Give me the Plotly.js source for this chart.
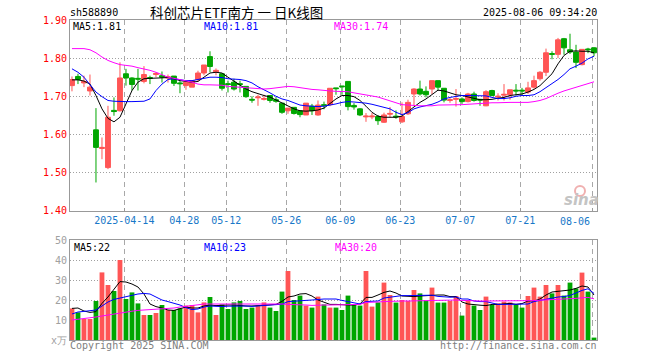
<!DOCTYPE html>
<html><head><meta charset="utf-8">
<script src="https://cdn.plot.ly/plotly-3.0.1.min.js"></script>
<style>html,body{margin:0;padding:0;background:#fff}#chart{width:660px;height:360px}</style>
</head><body><div id="chart"></div>
<script>
const dates = ['2025-03-31','2025-04-01','2025-04-02','2025-04-03','2025-04-07','2025-04-08','2025-04-09','2025-04-10','2025-04-11',
'2025-04-14','2025-04-15','2025-04-16','2025-04-17','2025-04-18','2025-04-21','2025-04-22','2025-04-23','2025-04-24','2025-04-25',
'2025-04-28','2025-04-29','2025-04-30','2025-05-06','2025-05-07','2025-05-08','2025-05-09',
'2025-05-12','2025-05-13','2025-05-14','2025-05-15','2025-05-16','2025-05-19','2025-05-20','2025-05-21','2025-05-22','2025-05-23',
'2025-05-26','2025-05-27','2025-05-28','2025-05-29','2025-05-30','2025-06-03','2025-06-04','2025-06-05','2025-06-06',
'2025-06-09','2025-06-10','2025-06-11','2025-06-12','2025-06-13','2025-06-16','2025-06-17','2025-06-18','2025-06-19','2025-06-20',
'2025-06-23','2025-06-24','2025-06-25','2025-06-26','2025-06-27','2025-06-30','2025-07-01','2025-07-02','2025-07-03','2025-07-04',
'2025-07-07','2025-07-08','2025-07-09','2025-07-10','2025-07-11','2025-07-14','2025-07-15','2025-07-16','2025-07-17','2025-07-18',
'2025-07-21','2025-07-22','2025-07-23','2025-07-24','2025-07-25','2025-07-28','2025-07-29','2025-07-30','2025-07-31','2025-08-01',
'2025-08-04','2025-08-05','2025-08-06'];

const open  = [1.728,1.752,1.735,1.714,1.612,1.563,1.513,1.663,1.662,1.759,1.748,1.747,1.739,1.749,1.757,1.754,1.748,1.753,1.735,1.728,1.724,1.744,1.761,1.804,1.764,1.759,
1.733,1.737,1.733,1.726,1.692,1.696,1.692,1.702,1.691,1.682,1.662,1.671,1.662,1.651,1.674,1.651,1.678,1.678,1.722,
1.727,1.739,1.676,1.667,1.646,1.646,1.647,1.632,1.653,1.648,1.633,1.654,1.706,1.719,1.713,1.719,1.741,1.721,1.689,1.692,
1.693,1.686,1.706,1.692,1.675,1.715,1.698,1.703,1.704,1.716,1.716,1.711,1.724,1.746,1.763,1.812,1.810,1.851,1.822,1.816,1.783,1.824,1.827];
const high  = [1.752,1.759,1.754,1.757,1.669,1.592,1.675,1.697,1.789,1.772,1.750,1.772,1.779,1.754,1.763,1.765,1.757,1.753,1.741,1.741,1.741,1.767,1.782,1.818,1.773,1.759,
1.741,1.746,1.741,1.726,1.700,1.704,1.704,1.702,1.698,1.682,1.669,1.671,1.662,1.682,1.680,1.689,1.686,1.721,1.722,
1.727,1.739,1.682,1.669,1.656,1.657,1.651,1.657,1.672,1.663,1.684,1.691,1.721,1.741,1.726,1.741,1.741,1.721,1.697,1.719,
1.697,1.709,1.712,1.693,1.716,1.717,1.708,1.732,1.717,1.732,1.722,1.738,1.754,1.766,1.825,1.818,1.853,1.853,1.864,1.835,1.823,1.827,1.829];
const low   = [1.713,1.732,1.724,1.702,1.474,1.535,1.509,1.649,1.660,1.728,1.715,1.715,1.734,1.732,1.750,1.736,1.736,1.727,1.708,1.717,1.724,1.738,1.755,1.763,1.755,1.715,
1.710,1.715,1.710,1.696,1.683,1.675,1.689,1.683,1.683,1.654,1.654,1.652,1.645,1.651,1.651,1.649,1.666,1.674,1.704,
1.704,1.663,1.665,1.648,1.633,1.640,1.625,1.630,1.644,1.641,1.630,1.651,1.675,1.702,1.697,1.706,1.715,1.684,1.683,1.673,
1.680,1.684,1.686,1.675,1.674,1.700,1.689,1.689,1.691,1.702,1.702,1.706,1.720,1.741,1.753,1.797,1.800,1.809,1.811,1.774,1.781,1.813,1.805];
const close = [1.744,1.744,1.739,1.724,1.566,1.566,1.645,1.660,1.748,1.748,1.731,1.745,1.757,1.747,1.760,1.750,1.751,1.734,1.733,1.737,1.741,1.761,1.782,1.778,1.768,1.721,
1.731,1.719,1.731,1.699,1.690,1.698,1.694,1.689,1.687,1.658,1.669,1.655,1.652,1.682,1.662,1.677,1.676,1.721,1.720,
1.725,1.673,1.672,1.651,1.648,1.648,1.636,1.651,1.655,1.646,1.647,1.684,1.719,1.706,1.704,1.741,1.724,1.690,1.691,1.694,
1.686,1.706,1.689,1.690,1.712,1.702,1.700,1.705,1.717,1.714,1.714,1.722,1.741,1.763,1.814,1.810,1.848,1.827,1.816,1.789,1.823,1.822,1.814];

const ma5  = [1.743,1.743,1.740,1.732,1.702,1.667,1.642,1.633,1.645,1.680,1.715,1.737,1.746,1.747,1.748,1.749,1.749,1.746,1.741,1.739,1.737,1.739,1.750,1.761,1.763,1.761,
1.750,1.739,1.728,1.719,1.712,1.706,1.702,1.698,1.690,1.682,1.674,1.667,1.662,1.661,1.662,1.664,1.669,1.682,1.693,
1.702,1.702,1.699,1.689,1.674,1.658,1.648,1.645,1.645,1.645,1.648,1.660,1.674,1.684,1.693,1.705,1.716,1.714,1.708,1.704,
1.702,1.698,1.693,1.691,1.691,1.692,1.695,1.697,1.702,1.704,1.706,1.711,1.718,1.728,1.743,1.759,1.785,1.807,1.818,1.819,1.818,1.818,1.814];
const ma10 = [1.772,1.763,1.750,1.732,1.711,1.699,1.689,1.687,1.686,1.686,1.686,1.686,1.687,1.693,1.715,1.732,1.744,1.746,1.743,1.741,1.741,1.744,1.748,1.750,1.750,1.749,
1.746,1.745,1.744,1.741,1.735,1.725,1.718,1.709,1.700,1.693,1.689,1.684,1.677,1.675,1.674,1.673,1.674,1.676,1.680,
1.684,1.686,1.685,1.684,1.682,1.679,1.675,1.671,1.667,1.658,1.652,1.657,1.667,1.672,1.675,1.679,1.685,1.693,1.697,1.700,
1.702,1.702,1.702,1.702,1.701,1.697,1.694,1.694,1.696,1.700,1.702,1.702,1.704,1.712,1.722,1.732,1.744,1.757,1.772,1.779,1.787,1.798,1.805];
const ma30 = [1.825,1.825,1.825,1.822,1.814,1.803,1.794,1.788,1.783,1.781,1.779,1.775,1.772,1.768,1.763,1.756,1.750,1.747,1.744,1.739,1.737,1.732,1.730,1.730,1.730,1.729,
1.726,1.725,1.724,1.723,1.721,1.720,1.719,1.720,1.722,1.725,1.726,1.725,1.722,1.719,1.718,1.717,1.715,1.714,1.713,
1.713,1.712,1.709,1.706,1.704,1.700,1.698,1.693,1.689,1.683,1.678,1.677,1.675,1.675,1.675,1.675,1.677,1.677,1.677,1.678,
1.678,1.679,1.680,1.682,1.683,1.683,1.683,1.684,1.684,1.684,1.684,1.684,1.686,1.689,1.694,1.702,1.708,1.714,1.719,1.724,1.728,1.733,1.738];

const volume = [15.8,13.8,10.5,10.5,19.5,33.8,27.5,24.5,40.0,20.5,23.8,18.3,12.5,12.5,13.5,17.5,15.0,15.0,15.8,17.2,17.5,13.8,18.8,21.5,12.5,17.8,
15.5,18.8,19.5,15.5,16.2,17.2,18.8,16.2,14.5,24.2,34.5,20.0,22.2,17.2,16.2,21.7,17.8,16.2,16.2,
15.0,22.2,17.8,17.2,34.5,16.7,18.8,28.7,22.5,18.7,20.0,19.5,25.0,23.3,19.7,26.2,18.7,18.7,19.5,22.0,
12.2,20.0,17.2,15.0,21.7,17.5,18.3,19.2,18.8,17.8,16.2,22.0,26.2,21.7,27.5,23.3,27.5,22.2,28.7,25.8,33.7,24.2,1.2];
const volMa5 = [15.8,16.0,14.5,13.8,14.2,18.3,21.5,25.5,29.2,29.0,28.0,26.5,23.0,18.0,16.7,16.0,15.0,14.8,15.8,16.5,16.0,16.0,17.0,17.5,17.2,17.5,
17.5,17.5,17.2,17.0,17.0,17.2,17.5,17.8,17.8,19.3,21.5,22.0,23.0,23.2,22.0,20.0,19.0,17.8,17.8,
17.5,17.5,17.5,18.0,21.3,21.3,22.5,23.8,24.5,23.5,22.0,21.7,21.7,22.0,22.2,22.6,22.5,22.5,21.7,21.7,
19.0,18.0,17.6,17.4,17.2,17.8,17.8,18.2,18.3,17.8,18.2,19.5,19.5,20.5,22.5,24.0,24.3,24.5,25.0,25.8,27.0,26.5,22.5];
const volMa10 = [13.0,14.0,14.3,14.5,15.0,17.0,19.0,20.3,21.0,21.8,22.2,23.0,23.3,23.0,21.5,20.0,19.2,18.5,17.5,16.2,15.2,15.5,16.5,17.0,16.7,16.7,
16.9,17.0,17.2,17.0,16.8,17.0,17.1,17.3,17.6,17.9,19.2,19.5,19.5,19.8,20.0,20.4,20.5,20.5,20.5,
19.8,19.2,18.3,18.0,19.2,19.3,19.5,21.0,21.5,22.0,22.2,22.2,22.2,22.3,22.3,22.4,21.8,21.5,21.4,21.5,
20.5,20.5,19.5,19.2,19.2,18.5,17.8,17.8,17.8,17.8,17.8,18.0,19.2,19.8,20.4,20.8,21.5,21.7,22.3,23.5,24.8,25.6,23.3];
const volMa30 = [10.0,10.3,10.7,11.0,11.5,12.0,12.5,13.0,13.7,14.0,14.4,14.8,15.0,15.0,15.2,15.5,15.8,16.0,16.5,16.8,17.0,17.6,18.0,18.0,18.2,18.3,
18.3,18.3,18.3,18.3,18.3,18.3,18.3,18.3,18.3,18.0,17.8,17.8,17.7,17.5,17.3,17.5,17.5,17.5,17.5,
17.5,17.5,17.5,17.8,18.8,18.8,19.0,19.2,19.4,19.5,19.5,19.5,19.6,19.7,19.7,19.8,19.9,20.0,20.0,20.0,
19.8,19.6,19.5,19.5,19.5,19.5,19.5,19.5,19.5,19.5,19.5,19.6,19.7,19.9,20.0,20.2,20.4,20.5,20.7,20.8,21.1,21.3,20.6];

const tickDates  = ['2025-04-14','2025-04-28','2025-05-12','2025-05-26','2025-06-09','2025-06-23','2025-07-07','2025-07-21','2025-08-06'];
const tickLabels = ['2025-04-14','04-28','05-12','05-26','06-09','06-23','07-07','07-21','08-06'];
const priceTicks = [1.40,1.50,1.60,1.70,1.80,1.90];
const volTicks = [0,10,20,30,40,50];
const volTickLabels = ['x万','10','20','30','40','50'];
const code = 'sh588890';
const chartTitle = '科创芯片ETF南方 一 日K线图';
const stamp = '2025-08-06 09:34:20';
const maLabels = ['MA5:1.81','MA10:1.81','MA30:1.74'];
const volMaLabels = ['MA5:22','MA10:23','MA30:20'];

const RED = '#ff5555', GREEN = '#00a600';
const MONO = 'DejaVu Sans Mono';
const L = 70, R = 597, T = 20, B = 340;
const px = x => (x - L) / (R - L);
const py = y => (B - y) / (B - T);

const tickPos = tickDates.map(d => dates.indexOf(d) - 0.28);
const lastTick = tickPos[tickPos.length - 1];
const shownLabels = tickLabels.map((t, i) => i === tickLabels.length - 1 ? '' : t);

const volColors = close.map((c, i) => c >= open[i] ? RED : GREEN);

const traces = [
  {type: 'candlestick', x: dates, open: open, high: high, low: low, close: close,
   xaxis: 'x', yaxis: 'y', whiskerwidth: 0, hoverinfo: 'skip',
   increasing: {line: {color: RED, width: 1}, fillcolor: RED},
   decreasing: {line: {color: GREEN, width: 1}, fillcolor: GREEN}},
  {type: 'scatter', mode: 'lines', x: dates, y: ma5, xaxis: 'x', yaxis: 'y', line: {color: '#000000', width: 1}},
  {type: 'scatter', mode: 'lines', x: dates, y: ma10, xaxis: 'x', yaxis: 'y', line: {color: '#0000ff', width: 1}},
  {type: 'scatter', mode: 'lines', x: dates, y: ma30, xaxis: 'x', yaxis: 'y', line: {color: '#ff00ff', width: 1}},
  {type: 'bar', x: dates, y: volume, xaxis: 'x2', yaxis: 'y2', marker: {color: volColors, line: {width: 0}}},
  {type: 'scatter', mode: 'lines', x: dates, y: volMa5, xaxis: 'x2', yaxis: 'y2', line: {color: '#000000', width: 1}},
  {type: 'scatter', mode: 'lines', x: dates, y: volMa10, xaxis: 'x2', yaxis: 'y2', line: {color: '#0000ff', width: 1}},
  {type: 'scatter', mode: 'lines', x: dates, y: volMa30, xaxis: 'x2', yaxis: 'y2', line: {color: '#ff00ff', width: 1}}
];

const xCommon = {
  type: 'category', range: [-0.33, 87.5], autorange: false, fixedrange: true,
  tickmode: 'array', tickvals: tickPos,
  showgrid: true, gridcolor: '#a8a8a8', gridwidth: 1, griddash: '5px,4px',
  showline: true, linecolor: '#999999', linewidth: 1, mirror: true, zeroline: false,
  rangeslider: {visible: false}
};

const ann = (text, x, y, xanchor, color, extra) => Object.assign({
  text: text, x: x, y: y, xref: 'paper', yref: 'paper', xanchor: xanchor, yanchor: 'middle',
  showarrow: false, font: {family: MONO, size: 10, color: color}
}, extra || {});

const layout = {
  width: 660, height: 360,
  margin: {l: L, r: 660 - R, t: T, b: 360 - B},
  paper_bgcolor: '#ffffff', plot_bgcolor: '#ffffff',
  showlegend: false, hovermode: false,
  boxgap: 0.1, boxgroupgap: 0.1, bargap: 0.2,
  font: {family: MONO, size: 10, color: '#000'},
  xaxis: Object.assign({}, xCommon, {anchor: 'y', ticks: 'inside', ticklen: 3, tickcolor: '#999999',
    ticktext: shownLabels, tickfont: {family: MONO, size: 10, color: '#1878c8'}}),
  xaxis2: Object.assign({}, xCommon, {anchor: 'y2', matches: 'x', showticklabels: false, ticks: ''}),
  yaxis: {domain: [py(210.7), 1], range: [1.40, 1.90], autorange: false, fixedrange: true,
    tickmode: 'array', tickvals: priceTicks, ticktext: priceTicks.map(v => v.toFixed(2)),
    tickfont: {family: MONO, size: 10, color: '#ff0000'}, ticks: '',
    showgrid: true, gridcolor: '#a0a0a0', gridwidth: 1, griddash: '1px,2px',
    showline: true, linecolor: '#999999', linewidth: 1, mirror: true, zeroline: false},
  yaxis2: {domain: [0, py(240)], range: [0, 50], autorange: false, fixedrange: true,
    tickmode: 'array', tickvals: volTicks, ticktext: volTickLabels,
    tickfont: {family: MONO, size: 10, color: '#a0a0a0'}, ticks: '',
    showgrid: true, gridcolor: '#a0a0a0', gridwidth: 1, griddash: '1px,2px',
    showline: true, linecolor: '#999999', linewidth: 1, mirror: true, zeroline: false},
  shapes: [
    {type: 'circle', xref: 'paper', yref: 'paper', x0: px(575), x1: px(585), y0: py(196), y1: py(186),
     line: {color: '#f0b0b0', width: 2}, fillcolor: 'rgba(0,0,0,0)', layer: 'above'}
  ],
  annotations: [
    ann(code, px(68), py(12), 'left', '#000000'),
    ann(chartTitle, px(148), py(12), 'left', '#000000', {font: {family: 'Noto Sans CJK SC', size: 13.5, color: '#000000'}}),
    ann(stamp, px(599), py(12), 'right', '#000000'),
    ann(maLabels[0], px(71), py(27), 'left', '#000000'),
    ann(maLabels[1], px(202), py(27), 'left', '#0000ff'),
    ann(maLabels[2], px(332), py(27), 'left', '#ff00ff'),
    ann(volMaLabels[0], px(72), py(247), 'left', '#000000'),
    ann(volMaLabels[1], px(202), py(247), 'left', '#0000ff'),
    ann(volMaLabels[2], px(333), py(247), 'left', '#ff00ff'),
    ann('Copyright 2025 SINA.COM', px(68), py(345), 'left', '#808080'),
    ann('http://finance.sina.com.cn', px(599), py(345), 'right', '#808080'),
    {text: tickLabels[tickLabels.length - 1], x: lastTick, xref: 'x', y: py(221), yref: 'paper',
     xanchor: 'right', yanchor: 'middle', showarrow: false, font: {family: MONO, size: 10, color: '#1878c8'}},
    {text: '<b><i>sina</i></b>', x: px(581), y: py(200), xref: 'paper', yref: 'paper', xanchor: 'center', yanchor: 'middle',
     showarrow: false, font: {family: 'DejaVu Sans', size: 15, color: '#c4c4c4'}}
  ]
};

Plotly.newPlot('chart', traces, layout, {staticPlot: true, displayModeBar: false});
</script></body></html>
